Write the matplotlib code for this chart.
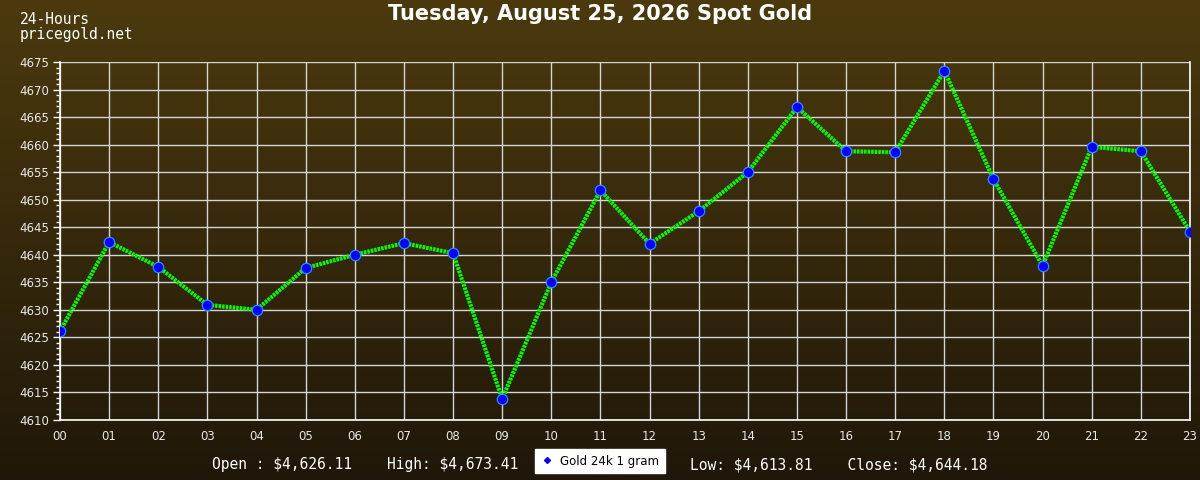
import numpy as np
import matplotlib
matplotlib.use("Agg")
import matplotlib.pyplot as plt
from matplotlib.lines import Line2D
from matplotlib.colors import LinearSegmentedColormap

hours = ["00", "01", "02", "03", "04", "05", "06", "07", "08", "09", "10", "11",
         "12", "13", "14", "15", "16", "17", "18", "19", "20", "21", "22", "23"]
prices = [4626.11, 4642.3, 4637.8, 4630.9, 4630.0, 4637.6, 4640.0, 4642.1,
          4640.3, 4613.81, 4635.0, 4651.7, 4642.0, 4647.9, 4655.0, 4666.8,
          4658.8, 4658.6, 4673.41, 4653.7, 4638.0, 4659.6, 4658.8, 4644.18]
y_ticks = list(range(4610, 4676, 5))
title = "Tuesday, August 25, 2026 Spot Gold"
series_name = "Gold 24k 1 gram"
stats_left = "Open : $4,626.11    High: $4,673.41"
stats_right = "Low: $4,613.81    Close: $4,644.18"

fig = plt.figure(figsize=(12, 4.8), dpi=100)

# gradient background
bg = fig.add_axes([0, 0, 1, 1], zorder=-10)
cmap = LinearSegmentedColormap.from_list("bg", ["#4c3a0e", "#1f1709"])
grad = np.linspace(0, 1, 256).reshape(-1, 1)
bg.imshow(grad, aspect="auto", cmap=cmap, extent=[0, 1, 0, 1], origin="upper")
bg.axis("off")

ax = fig.add_axes([60/1200, 1-420/480, 1130/1200, 358/480])
ax.set_facecolor("none")
x = np.arange(len(hours))
ax.plot(x, prices, color="#00ff00", lw=3.0, linestyle=(0, (0.6, 0.25)),
        solid_capstyle="butt", zorder=3)
ax.plot(x, prices, linestyle="none", marker="o", markersize=7.5,
        markerfacecolor="#0000ff", markeredgecolor="#2a8cff", markeredgewidth=0.9,
        zorder=4)

ax.set_xlim(0, len(hours) - 1)
ax.set_ylim(4610, 4675)
ax.set_xticks(x)
ax.set_xticklabels(hours)
ax.set_yticks(y_ticks)
ax.set_yticks(np.arange(4610, 4676, 1), minor=True)
ax.grid(True, which="major", color="#d4d4d4", lw=1.0)
ax.set_axisbelow(True)
ax.spines["top"].set_visible(False)
for s in ["left", "bottom", "right"]:
    ax.spines[s].set_color("#ffffff")
    ax.spines[s].set_linewidth(1.2)
ax.tick_params(axis="y", which="major", length=5, width=1, color="#ffffff",
               labelcolor="#e8e8e8", labelsize=8.5, pad=3)
ax.tick_params(axis="y", which="minor", length=3, width=1, color="#ffffff")
ax.tick_params(axis="x", length=0, labelcolor="#e8e8e8", labelsize=8.5, pad=7)

fig.text(0.5, 1-14/480, title, ha="center", va="center", color="white",
         fontsize=15, fontweight="bold", family="DejaVu Sans")
fig.text(20/1200, 1-19/480, "24-Hours", ha="left", va="center", color="white",
         fontsize=10.5, family="DejaVu Sans Mono")
fig.text(20/1200, 1-34/480, "pricegold.net", ha="left", va="center", color="white",
         fontsize=10.5, family="DejaVu Sans Mono")
fig.text(518/1200, 1-465/480, stats_left, ha="right", va="center", color="white",
         fontsize=10.5, family="DejaVu Sans Mono", parse_math=False)
fig.text(690/1200, 1-465/480, stats_right, ha="left", va="center", color="white",
         fontsize=10.5, family="DejaVu Sans Mono", parse_math=False)

handle = Line2D([], [], linestyle="none", marker="D", markersize=3,
                markerfacecolor="#0000ff", markeredgecolor="#0000ff")
leg = fig.legend(handles=[handle], labels=[series_name], loc="center",
                 bbox_to_anchor=(600/1200, 1-461/480), frameon=True,
                 fancybox=False, framealpha=1, facecolor="white",
                 edgecolor="white", fontsize=8.5, handlelength=1,
                 handletextpad=0.6, borderpad=0.5)

fig.savefig("out.png", dpi=100)
